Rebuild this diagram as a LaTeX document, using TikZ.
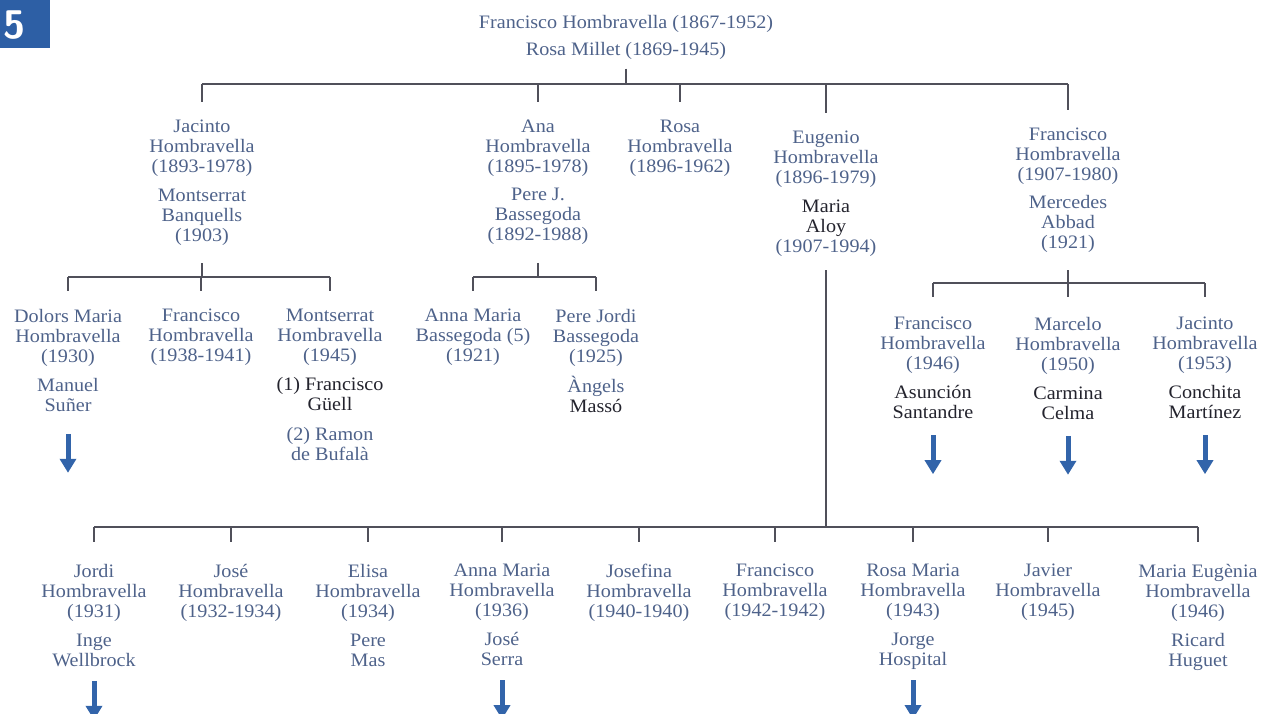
\documentclass[tikz,border=0pt]{standalone}
\usepackage{fontspec}
\setmainfont{Liberation Serif}[FakeStretch=1.06]
\usetikzlibrary{arrows.meta}

\definecolor{namecol}{RGB}{78,98,138}
\definecolor{darkcol}{RGB}{35,35,45}
\definecolor{linecol}{RGB}{80,80,90}
\definecolor{arrowblue}{RGB}{50,100,170}
\definecolor{badgeblue}{RGB}{45,95,165}
\newcommand{\dk}[1]{\textcolor{darkcol}{#1}}

\tikzset{
  person/.style={align=center, anchor=north, inner sep=0pt, text=namecol,
    font=\fontsize{19}{20}\selectfont},
  treeline/.style={draw=linecol, line width=1.1pt},
  descent/.style={draw=arrowblue, line width=5pt, -{Triangle[width=16pt,length=14pt]}},
}

\begin{document}
\begin{tikzpicture}[x=1pt, y=-1pt]
\useasboundingbox (0,0) rectangle (1277,713);
\clip (0,0) rectangle (1277,713);

% badge
\fill[badgeblue] (0,0) rectangle (50,48);
\node[text=white, font=\sffamily\bfseries\fontsize{40}{40}\selectfont] (badge) at (15,25) {5};

\coordinate (bar0) at (0,84);
\coordinate (bar1) at (0,277);
\coordinate (bar2) at (0,283);
\coordinate (bar3) at (0,527);

\node[person] (title) at (626,15) {Francisco Hombravella (1867-1952)\\[7pt]Rosa Millet (1869-1945)};

% first generation
\node[person] (jacinto) at (202,120) {Jacinto\\Hombravella\\(1893-1978)\\[9pt]Montserrat\\Banquells\\(1903)};
\node[person] (ana) at (538,120) {Ana\\Hombravella\\(1895-1978)\\[8pt]Pere J.\\Bassegoda\\(1892-1988)};
\node[person] (rosa) at (680,120) {Rosa\\Hombravella\\(1896-1962)};
\node[person] (eugenio) at (826,131) {Eugenio\\Hombravella\\(1896-1979)\\[9pt]\dk{Maria}\\\dk{Aloy}\\(1907-1994)};
\node[person] (francisco) at (1068,128) {Francisco\\Hombravella\\(1907-1980)\\[8pt]Mercedes\\Abbad\\(1921)};

% second generation
\node[person] (dolors) at (68,309) {Dolors Maria\\Hombravella\\(1930)\\[9pt]Manuel\\Suñer};
\node[person] (franjac) at (201,309) {Francisco\\Hombravella\\(1938-1941)};
\node[person] (montse) at (330,309) {Montserrat\\Hombravella\\(1945)\\[9pt]\dk{(1) Francisco}\\\dk{Güell}\\[10pt](2) Ramon\\de Bufalà};
\node[person] (annab) at (473,309) {Anna Maria\\Bassegoda (5)\\(1921)};
\node[person] (perej) at (596,309) {Pere Jordi\\Bassegoda\\(1925)\\[9pt]Àngels\\\dk{Massó}};
\node[person] (franfr) at (933,317) {Francisco\\Hombravella\\(1946)\\[9pt]\dk{Asunción}\\\dk{Santandre}};
\node[person] (marcelo) at (1068,317) {Marcelo\\Hombravella\\(1950)\\[9pt]\dk{Carmina}\\\dk{Celma}};
\node[person] (jacfr) at (1205,317) {Jacinto\\Hombravella\\(1953)\\[9pt]\dk{Conchita}\\\dk{Martínez}};

\node[person] (jordi) at (94,564) {Jordi\\Hombravella\\(1931)\\[9pt]Inge\\Wellbrock};
\node[person] (jose) at (231,564) {José\\Hombravella\\(1932-1934)};
\node[person] (elisa) at (368,564) {Elisa\\Hombravella\\(1934)\\[9pt]Pere\\Mas};
\node[person] (annah) at (502,564) {Anna Maria\\Hombravella\\(1936)\\[9pt]José\\Serra};
\node[person] (josefina) at (639,564) {Josefina\\Hombravella\\(1940-1940)};
\node[person] (franeu) at (775,564) {Francisco\\Hombravella\\(1942-1942)};
\node[person] (rosam) at (913,564) {Rosa Maria\\Hombravella\\(1943)\\[9pt]Jorge\\Hospital};
\node[person] (javier) at (1048,564) {Javier\\Hombravella\\(1945)};
\node[person] (mariae) at (1198,564) {Maria Eugènia\\Hombravella\\(1946)\\[9pt]Ricard\\Huguet};

% tree lines
\draw[treeline] ([yshift=-9pt]title.south) -- (title.south |- bar0);
\draw[treeline] (jacinto.north |- bar0) -- (francisco.north |- bar0);
\foreach \n in {jacinto,ana,rosa,eugenio,francisco}
  \draw[treeline] (\n.north |- bar0) -- ([yshift=18pt]\n.north);

\draw[treeline] ([yshift=-17pt]jacinto.south) -- (jacinto.south |- bar1);
\draw[treeline] (dolors.north |- bar1) -- (montse.north |- bar1);
\foreach \n in {dolors,franjac,montse}
  \draw[treeline] (\n.north |- bar1) -- ([yshift=18pt]\n.north);

\draw[treeline] ([yshift=-18pt]ana.south) -- (ana.south |- bar1);
\draw[treeline] (annab.north |- bar1) -- (perej.north |- bar1);
\foreach \n in {annab,perej}
  \draw[treeline] (\n.north |- bar1) -- ([yshift=18pt]\n.north);

\draw[treeline] ([yshift=-17pt]francisco.south) -- (francisco.south |- bar2);
\draw[treeline] (franfr.north |- bar2) -- (jacfr.north |- bar2);
\foreach \n in {franfr,marcelo,jacfr}
  \draw[treeline] (\n.north |- bar2) -- ([yshift=20pt]\n.north);

\draw[treeline] ([yshift=-13pt]eugenio.south) -- (eugenio.south |- bar3);
\draw[treeline] (jordi.north |- bar3) -- (mariae.north |- bar3);
\foreach \n in {jordi,jose,elisa,annah,josefina,franeu,rosam,javier,mariae}
  \draw[treeline] (\n.north |- bar3) -- ([yshift=22pt]\n.north);

% descendants
\draw[descent] (dolors.south) ++(0,22) -- ++(0,39);
\draw[descent] (franfr.south) ++(0,16) -- ++(0,39);
\draw[descent] (marcelo.south) ++(0,16) -- ++(0,39);
\draw[descent] (jacfr.south) ++(0,16) -- ++(0,39);
\draw[descent] (jordi.south) ++(0,14) -- ++(0,39);
\draw[descent] (annah.south) ++(0,14) -- ++(0,39);
\draw[descent] (rosam.south) ++(0,10) -- ++(0,39);
\end{tikzpicture}
\end{document}
